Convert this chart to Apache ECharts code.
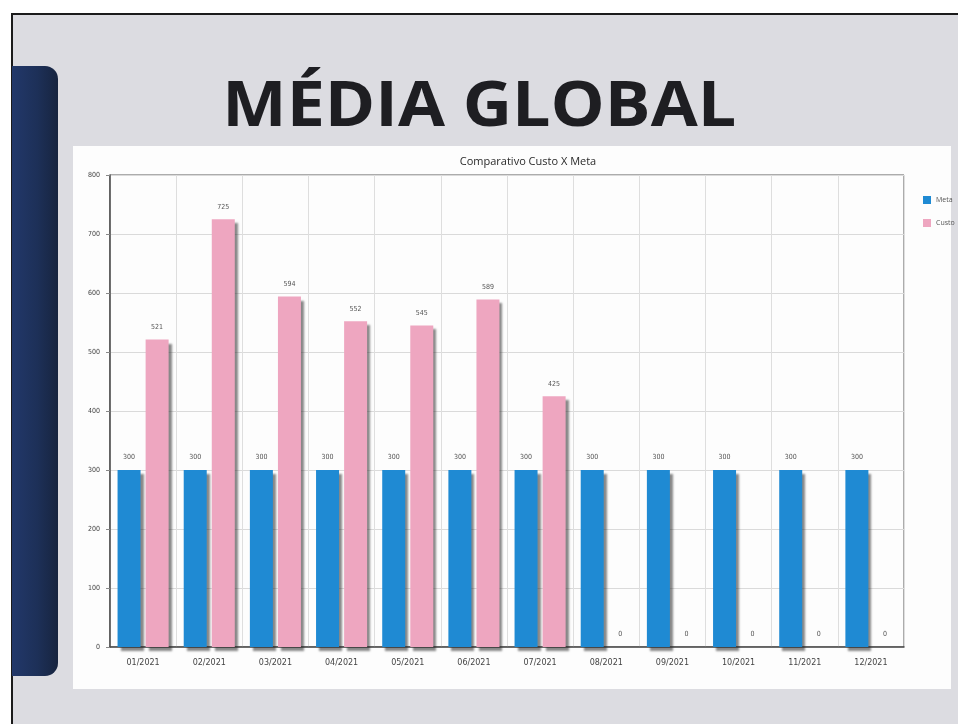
<!DOCTYPE html>
<html>
<head>
<meta charset="utf-8">
<script src="https://cdn.jsdelivr.net/npm/echarts@6/dist/echarts.min.js"></script>
<style>
  html, body { margin: 0; padding: 0; width: 958px; height: 724px; overflow: hidden; background: #ffffff; }
  #slide { position: absolute; left: 11px; top: 13px; width: 947px; height: 711px;
           background: #dcdce1; border-left: 2px solid #1b1b1b; border-top: 2px solid #1b1b1b; box-sizing: border-box; }
  #sidebar { position: absolute; left: 12px; top: 66px; width: 46px; height: 610px;
             background: linear-gradient(90deg, #22386a 0%, #1d3058 55%, #17243f 100%);
             border-radius: 0 13px 13px 0; }
  #heading { position: absolute; left: 0; width: 958px; top: 60px; text-align: center;
             font-family: "Open Sans", sans-serif; font-weight: 700; font-size: 62px;
             color: #1e1e22; transform: scaleX(1.1); transform-origin: 476px 0; }
  #panel { position: absolute; left: 73px; top: 146px; width: 878px; height: 543px; background: #fdfdfd; }
  #chart { position: absolute; left: 73px; top: 146px; width: 885px; height: 543px; }
</style>
</head>
<body>
<div id="slide"></div>
<div id="sidebar"></div>
<div id="heading">MÉDIA GLOBAL</div>
<div id="panel"></div>
<div id="chart"></div>
<script>
// Monthly categories and the two series: target (Meta) and actual cost (Custo)
const months = ['01/2021', '02/2021', '03/2021', '04/2021', '05/2021', '06/2021',
                '07/2021', '08/2021', '09/2021', '10/2021', '11/2021', '12/2021'];
const meta  = [300, 300, 300, 300, 300, 300, 300, 300, 300, 300, 300, 300];
const custo = [521, 725, 594, 552, 545, 589, 425, 0, 0, 0, 0, 0];
const yTicks = [0, 100, 200, 300, 400, 500, 600, 700, 800];

const chart = echarts.init(document.getElementById('chart'), null, { renderer: 'canvas' });

const barShadow = {
  shadowColor: 'rgba(40, 40, 40, 0.55)',
  shadowBlur: 2,
  shadowOffsetX: 3,
  shadowOffsetY: 4
};
const valueLabel = {
  show: true,
  position: 'top',
  distance: 9,
  fontSize: 7,
  color: '#555',
  fontFamily: 'DejaVu Sans Condensed, sans-serif'
};

chart.setOption({
  animation: false,
  backgroundColor: 'transparent',
  title: {
    text: 'Comparativo Custo X Meta',
    left: 450,
    top: 5,
    textAlign: 'center',
    textStyle: { fontSize: 11, fontWeight: 'normal', color: '#2a2a2a', fontFamily: 'Open Sans, sans-serif' }
  },
  legend: {
    orient: 'vertical',
    left: 850,
    top: 50,
    padding: 0,
    itemWidth: 8,
    itemHeight: 8,
    itemGap: 15,
    icon: 'rect',
    textStyle: { fontSize: 7, color: '#555', fontFamily: 'Open Sans, sans-serif' },
    data: ['Meta', 'Custo']
  },
  grid: {
    left: 37,
    top: 29,
    right: 54,
    bottom: 42,
    show: true,
    borderColor: '#5a5a5a',
    borderWidth: 1
  },
  xAxis: {
    type: 'category',
    data: months,
    axisLine: { lineStyle: { color: '#4a4a4a', width: 1.5 } },
    axisTick: { show: false },
    splitLine: { show: true, lineStyle: { color: '#dedede' } },
    axisLabel: { fontSize: 8, color: '#444', margin: 12, fontFamily: 'DejaVu Sans, sans-serif', interval: 0 }
  },
  yAxis: {
    type: 'value',
    min: yTicks[0],
    max: yTicks[yTicks.length - 1],
    interval: yTicks[1] - yTicks[0],
    axisLine: { show: true, lineStyle: { color: '#4a4a4a', width: 1.5 } },
    axisTick: { show: true, length: 4, lineStyle: { color: '#888' } },
    splitLine: { show: true, lineStyle: { color: '#dadada' } },
    axisLabel: { fontSize: 7, color: '#444', margin: 10, fontFamily: 'DejaVu Sans Condensed, sans-serif' }
  },
  series: [
    {
      name: 'Meta',
      type: 'bar',
      data: meta,
      barWidth: 23,
      barGap: '22%',
      itemStyle: Object.assign({ color: '#1f8ad3' }, barShadow),
      label: valueLabel
    },
    {
      name: 'Custo',
      type: 'bar',
      data: custo,
      barWidth: 23,
      barGap: '22%',
      itemStyle: Object.assign({ color: '#eea6c0' }, barShadow),
      label: valueLabel
    }
  ]
});
</script>
</body>
</html>
